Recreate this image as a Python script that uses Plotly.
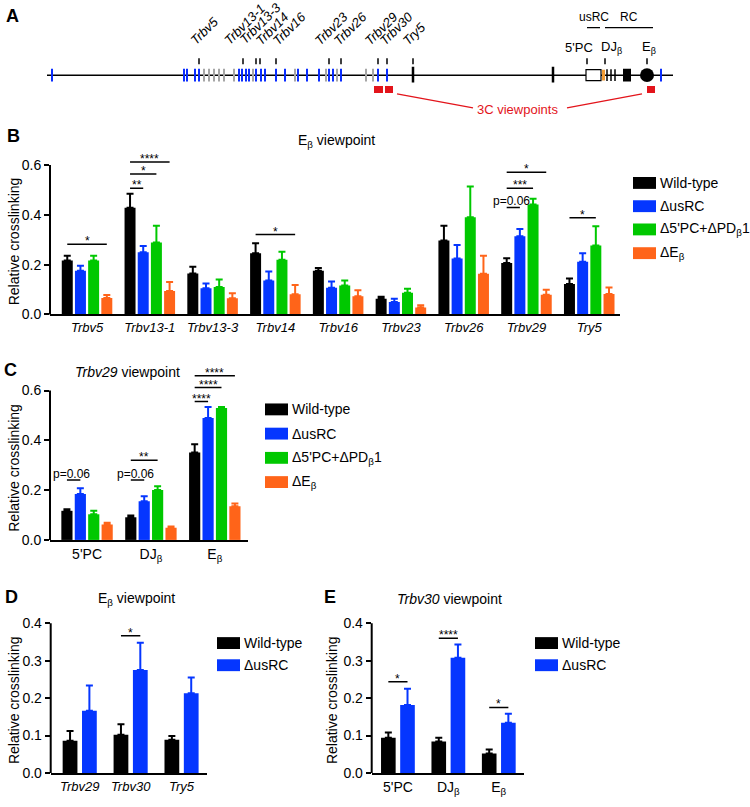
import plotly.graph_objects as go

W, H = 750, 807
FONT = "Arial, Liberation Sans, Helvetica, sans-serif"

COLORS = ["#000000", "#0536FF", "#00C800", "#FF6419"]
GRAY = "#a6a6a6"
RED = "#e3141b"

# ---------------- Panel A: locus map (map units along the locus) ----------------
map_start, map_end = 47, 673
map_functional = [52, 184, 187, 195, 199, 239, 242, 246, 249, 256, 261, 265, 276, 285,
                  298, 307, 319, 329, 333, 341, 378, 387, 661]
map_pseudo = [204, 209, 214, 219, 224, 234, 253, 295, 326, 337, 366, 373]
map_trypsin = [413, 553]
map_dj = [607, 611, 615]
map_pc_box = (586, 601)
map_pdb = (602, 605)
map_cb = (623, 631)
map_eb = 647
gene_labels = ["Trbv5", "Trbv13-1", "Trbv13-3", "Trbv14", "Trbv16", "Trbv23",
               "Trbv26", "Trbv29", "Trbv30", "Try5"]
gene_label_pos = [199, 243, 256, 260, 276, 329, 341, 378, 387, 413]
gene_text_start = [196, 229, 245, 261, 278, 320, 339, 370, 385, 408]
element_labels = ["5'PC", "DJ<sub>β</sub>", "E<sub>β</sub>"]
element_pos = [587, 605, 647]
element_text_x = [579, 611, 649]
region_labels = ["usRC", "RC"]
region_spans = [(587, 600), (605, 653)]
viewpoint_spans = [(374, 383), (385, 393), (647, 655)]

# ---------------- Panel B: Eβ viewpoint ----------------
b_categories = ["Trbv5", "Trbv13-1", "Trbv13-3", "Trbv14", "Trbv16", "Trbv23", "Trbv26", "Trbv29", "Try5"]
b_wt = [0.217, 0.429, 0.165, 0.246, 0.176, 0.063, 0.297, 0.207, 0.122]
b_wt_err = [0.019, 0.056, 0.027, 0.040, 0.011, 0.008, 0.059, 0.019, 0.022]
b_usrc = [0.176, 0.250, 0.105, 0.136, 0.107, 0.050, 0.225, 0.314, 0.212]
b_usrc_err = [0.020, 0.025, 0.019, 0.037, 0.025, 0.013, 0.054, 0.029, 0.034]
b_pc = [0.217, 0.289, 0.110, 0.220, 0.116, 0.087, 0.391, 0.442, 0.277]
b_pc_err = [0.019, 0.067, 0.030, 0.032, 0.020, 0.016, 0.123, 0.023, 0.077]
b_eb = [0.066, 0.094, 0.065, 0.081, 0.073, 0.028, 0.164, 0.079, 0.082]
b_eb_err = [0.012, 0.036, 0.020, 0.037, 0.024, 0.009, 0.072, 0.020, 0.026]
b_sig = [(0, 0, 3, "*", 0.282), (1, 0, 1, "**", 0.507), (1, 0, 2, "*", 0.564),
         (1, 0, 3, "****", 0.613), (3, 0, 3, "*", 0.321), (7, 0, 1, "p=0.06", 0.430),
         (7, 0, 2, "***", 0.507), (7, 0, 3, "*", 0.571), (8, 0, 2, "*", 0.389)]

# ---------------- Panel C: Trbv29 viewpoint ----------------
c_categories = ["5'PC", "DJ<sub>β</sub>", "E<sub>β</sub>"]
c_wt = [0.117, 0.091, 0.351]
c_wt_err = [0.006, 0.007, 0.033]
c_usrc = [0.185, 0.155, 0.490]
c_usrc_err = [0.023, 0.020, 0.044]
c_pc = [0.103, 0.201, 0.530]
c_pc_err = [0.014, 0.015, 0.004]
c_eb = [0.062, 0.049, 0.135]
c_eb_err = [0.007, 0.005, 0.011]
c_sig = [(0, 0, 1, "p=0.06", 0.241), (1, 0, 1, "p=0.06", 0.241), (1, 0, 2, "**", 0.320),
         (2, 0, 1, "****", 0.556), (2, 0, 2, "****", 0.612), (2, 0, 3, "****", 0.660)]

# ---------------- Panel D: Eβ viewpoint ----------------
d_categories = ["Trbv29", "Trbv30", "Try5"]
d_wt = [0.086, 0.102, 0.089]
d_wt_err = [0.026, 0.028, 0.010]
d_usrc = [0.166, 0.275, 0.213]
d_usrc_err = [0.068, 0.073, 0.042]
d_sig = [(1, 0, 1, "*", 0.367)]

# ---------------- Panel E: Trbv30 viewpoint ----------------
e_categories = ["5'PC", "DJ<sub>β</sub>", "E<sub>β</sub>"]
e_wt = [0.094, 0.084, 0.052]
e_wt_err = [0.014, 0.010, 0.011]
e_usrc = [0.182, 0.308, 0.134]
e_usrc_err = [0.043, 0.035, 0.024]
e_sig = [(0, 0, 1, "*", 0.244), (1, 0, 1, "****", 0.360), (2, 0, 1, "*", 0.175)]

series4 = ["Wild-type", "ΔusRC", "Δ5'PC+ΔPD<sub>β</sub>1", "ΔE<sub>β</sub>"]
series2 = ["Wild-type", "ΔusRC"]


def px(x):
    return x / W


def py(y):
    return 1 - y / H


fig = go.Figure()

# ---- layout of bar panels (pixel geometry) ----
panels = {
    # name: (axis id, left px, right px, zero px, px per unit, range top, xrange, ticks)
    "B": ("", 50, 620, 317, 251.7, 0.65, [-0.59, 8.49], [0, 0.2, 0.4, 0.6]),
    "C": ("2", 50, 248, 545, 251.7, 0.70, [-0.58, 2.52], [0, 0.2, 0.4, 0.6]),
    "D": ("3", 50.7, 207, 780.7, 378.5, 0.42, [-0.57, 2.5], [0, 0.1, 0.2, 0.3, 0.4]),
    "E": ("4", 371.7, 524, 780.7, 378.5, 0.42, [-0.52, 2.5], [0, 0.1, 0.2, 0.3, 0.4]),
}

layout_axes = {}
for name, (aid, l, r, z, ppu, top, xr, ticks) in panels.items():
    dom_x = [px(l), px(r)]
    dom_y = [py(z), py(z - top * ppu)]
    layout_axes["xaxis" + aid] = dict(domain=dom_x, range=xr, anchor="y" + aid,
                                      showline=True, linecolor="black", linewidth=2,
                                      ticks="", showgrid=False, zeroline=False,
                                      tickfont=dict(size=13, color="black", family=FONT),
                                      fixedrange=True)
    layout_axes["yaxis" + aid] = dict(domain=dom_y, range=[0, top], anchor="x" + aid,
                                      showline=False, ticks="outside", ticklen=5, tickwidth=2,
                                      tickcolor="black", tickvals=ticks, tickformat=".1f",
                                      showgrid=False, zeroline=False,
                                      tickfont=dict(size=14, color="black", family=FONT),
                                      fixedrange=True)
    # vertical axis line only up to the top tick
    fig.add_shape(type="line", xref="paper", yref="y" + aid, x0=px(l), x1=px(l),
                  y0=-0.004, y1=ticks[-1], line=dict(color="black", width=2))

centers4 = [-0.315, -0.105, 0.105, 0.315]
width4 = 0.175
centers2 = [-0.19, 0.19]
width2 = 0.29


def add_bars(aid, cats, vals_list, errs_list, centers, width):
    n = len(cats)
    for vals, errs, col, c in zip(vals_list, errs_list, COLORS, centers):
        fig.add_trace(go.Bar(
            x=list(range(n)), y=vals, width=width, offset=c - width / 2,
            marker=dict(color=col, line=dict(width=0)),
            error_y=dict(type="data", symmetric=False, array=errs, arrayminus=[0] * n,
                         color=col, thickness=2, width=3.5),
            xaxis="x" + aid, yaxis="y" + aid, showlegend=False, hoverinfo="skip"))


def add_sig(aid, sig, centers):
    for g, s0, s1, label, yv in sig:
        x0 = g + centers[s0]
        x1 = g + centers[s1]
        fig.add_shape(type="line", xref="x" + aid, yref="y" + aid, x0=x0, x1=x1,
                      y0=yv, y1=yv, line=dict(color="black", width=1.5))
        if label.startswith("p"):
            fig.add_annotation(xref="x" + aid, yref="y" + aid, x=(x0 + x1) / 2 - 0.03, y=yv,
                               text=label, showarrow=False, yanchor="bottom", yshift=-3,
                               font=dict(size=12, color="black", family=FONT))
        else:
            fig.add_annotation(xref="x" + aid, yref="y" + aid, x=(x0 + x1) / 2, y=yv,
                               text=label, showarrow=False, yanchor="middle", yshift=3,
                               font=dict(size=12, color="black", family=FONT))


add_bars("", b_categories, [b_wt, b_usrc, b_pc, b_eb],
         [b_wt_err, b_usrc_err, b_pc_err, b_eb_err], centers4, width4)
add_sig("", b_sig, centers4)
add_bars("2", c_categories, [c_wt, c_usrc, c_pc, c_eb],
         [c_wt_err, c_usrc_err, c_pc_err, c_eb_err], centers4, width4)
add_sig("2", c_sig, centers4)
add_bars("3", d_categories, [d_wt, d_usrc], [d_wt_err, d_usrc_err], centers2, width2)
add_sig("3", d_sig, centers2)
add_bars("4", e_categories, [e_wt, e_usrc], [e_wt_err, e_usrc_err], centers2, width2)
add_sig("4", e_sig, centers2)

for aid, cats, italic in [("", b_categories, True), ("2", c_categories, False),
                          ("3", d_categories, True), ("4", e_categories, False)]:
    key = "xaxis" + aid
    layout_axes[key]["tickvals"] = list(range(len(cats)))
    layout_axes[key]["ticktext"] = ["<i>%s</i>" % c if italic else c for c in cats]
    if not italic:
        layout_axes[key]["tickfont"] = dict(size=14, color="black", family=FONT)

# ---------------- Panel A axes ----------------
layout_axes["xaxis5"] = dict(domain=[0, 1], range=[0, W], anchor="y5", visible=False, fixedrange=True)
layout_axes["yaxis5"] = dict(domain=[1 - 120 / H, 1], range=[-45, 75], anchor="x5", visible=False,
                             fixedrange=True)


def a_line(x0, y0, x1, y1, color="black", width=1.5):
    fig.add_shape(type="line", xref="x5", yref="y5", x0=x0, y0=y0, x1=x1, y1=y1,
                  line=dict(color=color, width=width))


a_line(map_start, 0, map_end, 0, "black", 1.5)
for x in map_pseudo:
    a_line(x, -6.5, x, 6.5, GRAY, 2)
for x in map_functional:
    a_line(x, -6.5, x, 6.5, "#0a2dff", 2)
for x in map_trypsin:
    a_line(x, -7.5, x, 8.5, "black", 2.5)
for x in map_dj:
    a_line(x, -6, x, 6, "black", 1.5)
fig.add_shape(type="rect", xref="x5", yref="y5", x0=map_pc_box[0], x1=map_pc_box[1], y0=-5.5, y1=5.5,
              fillcolor="white", line=dict(color="black", width=1.2))
fig.add_shape(type="rect", xref="x5", yref="y5", x0=map_pdb[0], x1=map_pdb[1], y0=-5.5, y1=5.5,
              fillcolor="#f39c34", line=dict(width=0))
fig.add_shape(type="rect", xref="x5", yref="y5", x0=map_cb[0], x1=map_cb[1], y0=-6.5, y1=6.5,
              fillcolor="black", line=dict(width=0))
fig.add_shape(type="circle", xref="x5", yref="y5", x0=map_eb - 7, x1=map_eb + 7, y0=-7, y1=7,
              fillcolor="black", line=dict(width=0))

for x in gene_label_pos + element_pos:
    a_line(x, 11, x, 17, "black", 1.5)

for lab, xs in zip(gene_labels, gene_text_start):
    fig.add_annotation(xref="x5", yref="y5", x=xs - 11, y=25, text="<i>%s</i>" % lab,
                       textangle=-45, showarrow=False, xanchor="left", yanchor="bottom",
                       font=dict(size=13, color="black", family=FONT))
for lab, xs in zip(element_labels, element_text_x):
    fig.add_annotation(xref="x5", yref="y5", x=xs, y=28, text=lab, showarrow=False,
                       xanchor="center", yanchor="middle",
                       font=dict(size=13, color="black", family=FONT))
for lab, (s0, s1) in zip(region_labels, region_spans):
    a_line(s0, 48, s1, 48, "black", 1.2)
    fig.add_annotation(xref="x5", yref="y5", x=(s0 + s1) / 2, y=59, text=lab, showarrow=False,
                       xanchor="center", yanchor="middle",
                       font=dict(size=12, color="black", family=FONT))

for s0, s1 in viewpoint_spans:
    fig.add_shape(type="rect", xref="x5", yref="y5", x0=s0, x1=s1, y0=-18, y1=-11,
                  fillcolor=RED, line=dict(width=0))
a_line(397, -19, 473, -33, RED, 1.3)
a_line(567, -33, 642, -19, RED, 1.3)
fig.add_annotation(xref="x5", yref="y5", x=517, y=-35, text="3C viewpoints", showarrow=False,
                   xanchor="center", yanchor="middle", font=dict(size=13, color=RED, family=FONT))


# ---------------- text annotations (paper) ----------------
def ptext(x, y, text, size=13, bold=False, xanchor="center", angle=0):
    if bold:
        text = "<b>%s</b>" % text
    fig.add_annotation(xref="paper", yref="paper", x=px(x), y=py(y), text=text, showarrow=False,
                       xanchor=xanchor, yanchor="middle", textangle=angle,
                       font=dict(size=size, color="black", family=FONT))


for lab, (x, y) in {"A": (12, 15), "B": (13, 137), "C": (10, 373), "D": (11, 603), "E": (330, 603)}.items():
    ptext(x, y, lab, size=18, bold=True)

ptext(336, 142, "E<sub>β</sub> viewpoint", 14)
ptext(127, 375, "<i>Trbv29</i> viewpoint", 14)
ptext(136, 605, "E<sub>β</sub> viewpoint", 14)
ptext(449, 605, "<i>Trbv30</i> viewpoint", 14)

for x, y in [(14, 243), (14, 472), (14, 707), (332, 707)]:
    ptext(x, y, "Relative crosslinking", 14, angle=-90)


def add_legend(labels, x_box, rows, box_w=23, box_h=12):
    for lab, col, yy in zip(labels, COLORS, rows):
        fig.add_shape(type="rect", xref="paper", yref="paper", x0=px(x_box), x1=px(x_box + box_w),
                      y0=py(yy + box_h / 2), y1=py(yy - box_h / 2), fillcolor=col, line=dict(width=0))
        ptext(x_box + box_w + 2, yy, lab, 14, xanchor="left")


add_legend(series4, 633, [184, 207.5, 231, 255])
add_legend(series4, 265, [413, 437.5, 462, 486.5])
add_legend(series2, 217, [649.3, 671.7])
add_legend(series2, 535, [649.3, 671.7])

fig.update_layout(width=W, height=H, margin=dict(l=0, r=0, t=0, b=0),
                  paper_bgcolor="white", plot_bgcolor="white", barmode="overlay",
                  showlegend=False, font=dict(family=FONT, color="black"), **layout_axes)

fig.write_html("out.html", config={"displayModeBar": False, "staticPlot": True},
               post_script="document.body.style.margin='0';")
